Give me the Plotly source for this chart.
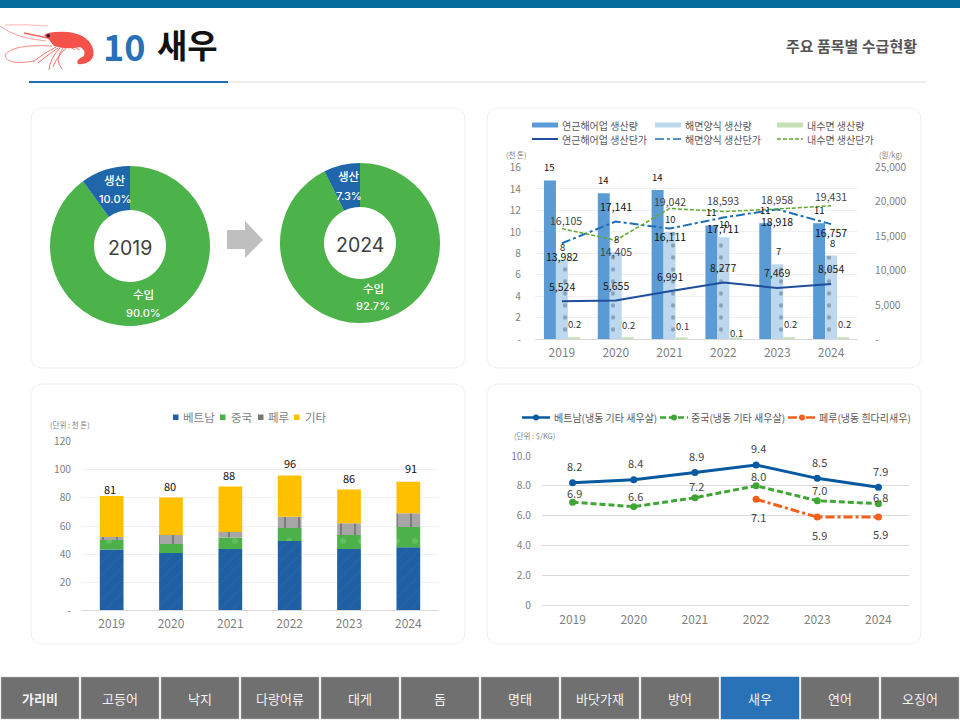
import plotly.graph_objects as go

# ---- data ----
years = ["2019", "2020", "2021", "2022", "2023", "2024"]
xs = [0, 1, 2, 3, 4, 5]

share_labels = ["수입", "생산"]
share_2019 = [90.0, 10.0]
share_2024 = [92.7, 7.3]

coastal_qty = [14.8, 13.6, 13.9, 10.6, 10.8, 10.8]
coastal_qty_labels = ["15", "14", "14", "11", "11", "11"]
farm_qty = [7.4, 8.1, 10.0, 9.5, 7.0, 7.8]
farm_qty_labels = ["8", "8", "10", "10", "7", "8"]
inland_qty = [0.2, 0.2, 0.1, 0.1, 0.2, 0.2]
coastal_price = [5524, 5655, 6991, 8277, 7469, 8054]
farm_price = [13982, 17141, 16111, 17711, 18918, 16757]
inland_price = [16105, 14405, 19042, 18593, 18958, 19431]

vietnam = [43.2, 40.8, 43.6, 49.3, 43.6, 44.8]
china = [6.8, 6.4, 8.3, 9.3, 10.0, 14.5]
peru = [2.2, 6.4, 3.8, 8.0, 8.3, 9.7]
other = [29.1, 26.6, 32.5, 29.4, 24.0, 22.5]
import_total = [81, 80, 88, 96, 86, 91]

price_vietnam = [8.2, 8.4, 8.9, 9.4, 8.5, 7.9]
price_china = [6.9, 6.6, 7.2, 8.0, 7.0, 6.8]
price_peru = [None, None, None, 7.1, 5.9, 5.9]

nav_items = ["가리비", "고등어", "낙지", "다랑어류", "대게", "돔", "명태", "바닷가재", "방어", "새우", "연어", "오징어"]

# ---- style ----
FONT = "Noto Sans CJK KR"
TICK = "#7f7f7f"
W, H = 960, 720
shapes, ann = [], []


def dx(a, b):
    return [a / W, b / W]


def dy(top, bottom):
    return [1 - bottom / H, 1 - top / H]


def px_text(x, y, text, size=11, color="#595959", anchor="center", weight=None, family=FONT):
    f = dict(family=family, size=size, color=color)
    if weight:
        f["weight"] = weight
    ann.append(dict(xref="x", yref="y", x=x, y=y, text=text, showarrow=False, xanchor=anchor,
                    yanchor="middle", font=f))


def lab(ax, ay, x, y, text, up, xshift=0, size=10.5, color="#222222"):
    ann.append(dict(xref=ax, yref=ay, x=x, y=y, text=text, showarrow=False, xanchor="center",
                    yanchor="middle", yshift=up, xshift=xshift,
                    font=dict(family=FONT, size=size, color=color)))


def rect(x0, y0, x1, y1, fill, line=None, lw=0):
    shapes.append(dict(type="rect", xref="x", yref="y", x0=x0, y0=y0, x1=x1, y1=y1, fillcolor=fill,
                       line=dict(color=line or fill, width=lw), layer="below"))


def seg(x0, y0, x1, y1, color, width=1, dash="solid"):
    shapes.append(dict(type="line", xref="x", yref="y", x0=x0, y0=y0, x1=x1, y1=y1,
                       line=dict(color=color, width=width, dash=dash), layer="below"))


def path(d, fill="rgba(0,0,0,0)", line="rgba(0,0,0,0)", lw=0):
    shapes.append(dict(type="path", xref="x", yref="y", path=d, fillcolor=fill,
                       line=dict(color=line, width=lw), layer="below"))


def card(x0, y0, x1, y1, r=12):
    path(f"M{x0+r},{y0} L{x1-r},{y0} Q{x1},{y0} {x1},{y0+r} L{x1},{y1-r} Q{x1},{y1} {x1-r},{y1} "
         f"L{x0+r},{y1} Q{x0},{y1} {x0},{y1-r} L{x0},{y0+r} Q{x0},{y0} {x0+r},{y0} Z",
         fill="#ffffff", line="#efefef", lw=1)


# ---- page furniture ----
rect(0, 0, 960, 8, "#046c9c")
rect(228, 81.5, 926, 82.5, "#dedede")
rect(29, 81, 228, 83, "#1f6db8")
for c in [(31, 108, 465, 368), (487, 108, 921, 368), (31, 384, 465, 644), (487, 384, 921, 644)]:
    card(*c)

# shrimp
path("M5,25 Q25,24 48,26", line="#fbb8b4", lw=1)
path("M0,26 Q15,38 46,41", line="#f9a09a", lw=1)
path("M52,46 Q12,44 5,55 Q7,66 34,61", line="#f88a84", lw=1)
path("M24,33 L48,38", line="#f4655c", lw=1.3)
for d in ["M56,47 Q42,54 33,62", "M58,48 Q46,56 38,63", "M60,48 Q50,58 49,70",
          "M63,48 Q54,60 62,69", "M66,48 Q56,58 53,67", "M70,47 L75,50", "M74,47 L80,50"]:
    path(d, line="#f6746c", lw=1)
path("M44,35 Q50,31 68,32 Q86,34 92,46 Q96,56 90,61 Q83,65 78,64 Q75,60 84,56 Q86,50 80,47 "
     "Q66,50 54,46 Q50,40 44,35 Z", fill="#f4524a")
shapes.append(dict(type="circle", xref="x", yref="y", x0=46.5, y0=34, x1=50, y1=37.5,
                   fillcolor="#222222", line=dict(width=0), layer="below"))

px_text(101, 45, "<b>10</b>", size=36, color="#2a70b8", anchor="left")
px_text(155, 44, "<b>새우</b>", size=33, color="#111111", anchor="left")
px_text(919, 45, "<b>주요 품목별 수급현황</b>", size=15, color="#555555", anchor="right")

# nav
for i, name in enumerate(nav_items):
    x0 = i * 80 + 1
    active = name == "새우"
    rect(x0, 677, x0 + 78, 719, "#2a72b8" if active else "#707070", "#c4c4c4" if not active else "#2a72b8", 0.5)
    px_text(x0 + 39, 698, f"<b>{name}</b>" if i == 0 else name, size=13, color="#f2f2f2")

# arrow
path("M227,230 L245,230 L245,221 L263,240 L245,258 L245,249 L227,249 Z", fill="#bfbfbf")

fig = go.Figure()
# hidden pixel canvas for page furniture
fig.add_trace(go.Scatter(x=[0, 960], y=[0, 720], mode="markers", marker=dict(opacity=0),
                         hoverinfo="skip", showlegend=False, xaxis="x", yaxis="y"))

# ---- donuts ----
for vals, (cx, cy), yr in [(share_2019, (130, 246), years[0]), (share_2024, (360, 243), years[5])]:
    fig.add_trace(go.Pie(labels=share_labels, values=vals, hole=0.45, sort=False, direction="clockwise",
                         rotation=0, textinfo="none", showlegend=False,
                         marker=dict(colors=["#4cb24a", "#1f66aa"], line=dict(width=0)),
                         domain=dict(x=dx(cx - 80, cx + 80), y=dy(cy - 80, cy + 80))))
    px_text(cx, cy + 2, yr, size=19.5, color="#404040", family="Inter")
for (x, y1, y2), lb, v in [((115, 180, 199), "생산", share_2019[1]), ((143, 294, 313), "수입", share_2019[0]),
                           ((349, 176, 196), "생산", share_2024[1]), ((373, 288, 306), "수입", share_2024[0])]:
    px_text(x, y1, lb, size=11.5, color="#ffffff", weight=500)
    px_text(x, y2, f"{v:.1f}%", size=11, color="#ffffff", weight=500, family="Inter")

# ---- chart 2: production ----
bw = 0.2226
fig.add_trace(go.Bar(x=xs, y=coastal_qty, width=bw, offset=-1.5 * bw, marker=dict(color="#5b9bd5", line=dict(width=0)),
                     name="연근해어업 생산량", xaxis="x2", yaxis="y2", showlegend=False))
fig.add_trace(go.Bar(x=xs, y=farm_qty, width=bw, offset=-0.5 * bw,
                     marker=dict(color="#bdd7ee", line=dict(width=0),
                                 pattern=dict(shape=".", fgcolor="#4f6b86", bgcolor="#bdd7ee", size=12, solidity=0.1)),
                     name="해면양식 생산량", xaxis="x2", yaxis="y2", showlegend=False))
fig.add_trace(go.Bar(x=xs, y=inland_qty, width=bw, offset=0.5 * bw, marker=dict(color="#c5e0b4", line=dict(width=0)),
                     name="내수면 생산량", xaxis="x2", yaxis="y2", showlegend=False))
fig.add_trace(go.Scatter(x=xs, y=coastal_price, mode="lines", line=dict(color="#1f4e9c", width=2),
                         name="연근해어업 생산단가", xaxis="x2", yaxis="y3", showlegend=False))
fig.add_trace(go.Scatter(x=xs, y=farm_price, mode="lines", line=dict(color="#1f6fb8", width=2, dash="dashdot"),
                         name="해면양식 생산단가", xaxis="x2", yaxis="y3", showlegend=False))
fig.add_trace(go.Scatter(x=xs, y=inland_price, mode="lines", line=dict(color="#5fa82e", width=1.5, dash="4px,2px"),
                         name="내수면 생산단가", xaxis="x2", yaxis="y3", showlegend=False))

# bar labels
for i in xs:
    lab("x2", "y2", i, coastal_qty[i], coastal_qty_labels[i], 13, xshift=-12, size=9.5, color="#111111")
    lab("x2", "y2", i, farm_qty[i], farm_qty_labels[i], 13, xshift=1, size=9.5, color="#222222")
inland_up = [13, 12, 12, 5, 13, 13]
for i in xs:
    lab("x2", "y2", i, inland_qty[i], f"{inland_qty[i]:.1f}", inland_up[i], xshift=13, size=9.5, color="#333333")
coastal_up = [15, 15, 15, 15, 15, 15]
farm_up = [-13, 15, -8, -11, -12, -8]
inland_p_up = [8, -11, 7, 11, 10, 9]
inland_p_dx = [4, 0, 0, 0, 0, 0]
for i in xs:
    lab("x2", "y3", i, coastal_price[i], f"{coastal_price[i]:,}", coastal_up[i], size=10.5)
    lab("x2", "y3", i, farm_price[i], f"{farm_price[i]:,}", farm_up[i], size=10.5, color="#111111")
    lab("x2", "y3", i, inland_price[i], f"{inland_price[i]:,}", inland_p_up[i], xshift=inland_p_dx[i], size=10.5, color="#444444")

# chart 2 legend
row1, row2 = 125, 139
for kx, tx, name, col in [(532, 560, "연근해어업 생산량", "#5b9bd5"), (655, 683, "해면양식 생산량", "#bdd7ee"),
                          (777, 805, "내수면 생산량", "#c5e0b4")]:
    rect(kx, row1 - 2.5, kx + 26, row1 + 2.5, col)
    px_text(tx, row1, name, size=10, anchor="left")
for kx, tx, name, col, dash, w in [(532, 560, "연근해어업 생산단가", "#1f4e9c", "solid", 2),
                                   (655, 683, "해면양식 생산단가", "#1f6fb8", "dashdot", 1.5),
                                   (777, 805, "내수면 생산단가", "#5fa82e", "4px,2px", 1.5)]:
    seg(kx, row2, kx + 26, row2, col, w, dash)
    px_text(tx, row2, name, size=10, anchor="left")
px_text(516, 154, "(천 톤)", size=7.5, color=TICK)
px_text(890, 154, "(원/kg)", size=7.5, color=TICK)

# ---- chart 3: imports ----
base = [0, 0, 0, 0, 0, 0]
for vals, name, col, pat in [
    (vietnam, "베트남", "#1f5fa3", dict(shape="/", fgcolor="#3a74af", bgcolor="#1f5fa3", size=9, solidity=0.1)),
    (china, "중국", "#4cb148", dict(shape=".", fgcolor="#7fcb7b", bgcolor="#4cb148", size=18, solidity=0.08)),
    (peru, "페루", "#a6a6a6", dict(shape="|", fgcolor="#4a4a4a", bgcolor="#a6a6a6", size=14, solidity=0.13)),
    (other, "기타", "#ffc000", None),
]:
    fig.add_trace(go.Bar(x=xs, y=vals, base=list(base), width=0.4, name=name, xaxis="x3", yaxis="y4", showlegend=False,
                         marker=dict(color=col, line=dict(width=0), pattern=pat) if pat else
                         dict(color=col, line=dict(width=0))))
    base = [b + v for b, v in zip(base, vals)]
total_up = [7, 12, 11, 12, 12, 14]
total_dx = [-2, -1, -1, 0, 0, 3]
for i in xs:
    lab("x3", "y4", i, base[i], str(import_total[i]), total_up[i], xshift=total_dx[i], size=11, color="#111111")
for kx, tx, name, col in [(173, 181, "베트남", "#1f5fa3"), (220, 229, "중국", "#4cb148"),
                          (258, 266, "페루", "#777777"), (294, 303, "기타", "#ffc000")]:
    rect(kx, 414.5, kx + 5.5, 420, col)
    px_text(tx, 417, name, size=11.5, anchor="left", color=TICK)
px_text(70, 424, "(단위 : 천 톤)", size=7.5, color=TICK)

# ---- chart 4: prices ----
for vals, name, col, dash, up in [
    (price_vietnam, "베트남(냉동 기타 새우살)", "#075a9f", "solid", [17, 17, 16, 17, 16, 16]),
    (price_china, "중국(냉동 기타 새우살)", "#3fa535", "6px,3px", [9, 11, 12, 10, 11, 7]),
    (price_peru, "페루(냉동 흰다리새우)", "#f4601a", "dashdot", [0, 0, 0, -18, -18, -17]),
]:
    fig.add_trace(go.Scatter(x=xs, y=vals, mode="lines+markers", name=name, line=dict(color=col, width=3, dash=dash),
                             marker=dict(color=col, size=7), xaxis="x4", yaxis="y5", showlegend=False))
    for i in xs:
        if vals[i] is not None:
            lab("x4", "y5", i, vals[i], f"{vals[i]:.1f}", up[i], xshift=2, size=11, color="#444444")
for kx, tx, name, col, dash in [(522, 552, "베트남(냉동 기타 새우살)", "#075a9f", "solid"),
                                (660, 689, "중국(냉동 기타 새우살)", "#3fa535", "6px,3px"),
                                (788, 817, "페루(냉동 흰다리새우)", "#f4601a", "dashdot")]:
    seg(kx, 417.5, kx + 28, 417.5, col, 2.5, dash)
    shapes.append(dict(type="circle", xref="x", yref="y", x0=kx + 11, y0=414.5, x1=kx + 17, y1=420.5,
                       fillcolor=col, line=dict(width=0), layer="below"))
    px_text(tx, 417.5, name, size=10, anchor="left")
px_text(534, 435, "(단위 : $/KG)", size=7.5, color=TICK)

# ---- layout ----
grid = "#f0f0f0"


def xaxis(a, b, anchor, size=12, standoff=2):
    return dict(domain=dx(a, b), anchor=anchor, range=[-0.5, 5.5], tickmode="array", tickvals=xs, ticktext=years,
                showgrid=False, zeroline=False, showline=True, linecolor="#d9d9d9", ticks="outside", ticklen=standoff,
                tickcolor="rgba(0,0,0,0)", tickfont=dict(family=FONT, size=size, color=TICK))


def yaxis(top, bottom, anchor, rng, vals, text, gap, gcolor=grid, size=10.2, side="left", show_grid=True, overlay=None):
    d = dict(domain=dy(top, bottom), anchor=anchor, range=rng, tickmode="array", tickvals=vals, ticktext=text,
             showgrid=show_grid, gridcolor=gcolor, gridwidth=1, zeroline=False, showline=False, ticks="outside",
             ticklen=gap, tickcolor="rgba(0,0,0,0)", side=side,
             tickfont=dict(family=FONT, size=size, color=TICK))
    if overlay:
        d["overlaying"] = overlay
    return d


fig.update_layout(
    width=W, height=H, margin=dict(l=0, r=0, t=0, b=0, pad=0, autoexpand=False), autosize=False,
    paper_bgcolor="#ffffff", plot_bgcolor="rgba(0,0,0,0)", barmode="overlay", showlegend=False,
    hovermode=False, shapes=shapes, annotations=ann,
    xaxis=dict(domain=[0, 1], range=[0, 960], visible=False, fixedrange=True),
    yaxis=dict(domain=[0, 1], range=[720, 0], visible=False, fixedrange=True),
    xaxis2=xaxis(535, 858, "y2"),
    yaxis2=yaxis(167.5, 339.3, "x2", [0, 16], list(range(0, 17, 2)),
                 ["-", "2", "4", "6", "8", "10", "12", "14", "16"], 11),
    yaxis3=yaxis(167.5, 339.3, "x2", [0, 25000], [0, 5000, 10000, 15000, 20000, 25000],
                 ["-", "5,000", "10,000", "15,000", "20,000", "25,000"], 14, side="right", show_grid=False, overlay="y2"),
    xaxis3=xaxis(82, 438, "y4"),
    yaxis4=yaxis(441.7, 610.3, "x3", [0, 120], [0, 20, 40, 60, 80, 100, 120],
                 ["-", "20", "40", "60", "80", "100", "120"], 8),
    xaxis4=xaxis(542, 909, "y5", standoff=4),
    yaxis5=yaxis(456, 605, "x4", [0, 10], [0, 2, 4, 6, 8, 10], ["0", "2.0", "4.0", "6.0", "8.0", "10.0"], 8,
                 gcolor="#d9d9d9"),
)

fig.write_html("out.html", config=dict(displayModeBar=False),
               post_script="document.body.style.margin='0';document.documentElement.style.overflow='hidden';")
